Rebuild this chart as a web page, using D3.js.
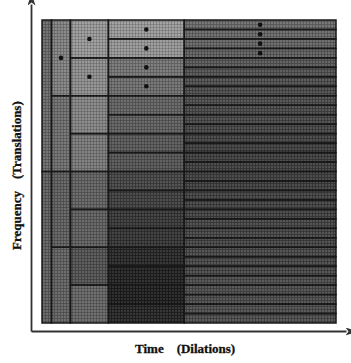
<!DOCTYPE html>
<html>
<head>
<meta charset="utf-8">
<script src="https://cdn.jsdelivr.net/npm/d3@7"></script>
<style>
  body { margin: 0; background: #fff; }
  svg { display: block; }
  .label { font-family: "Liberation Serif", "DejaVu Serif", serif; font-weight: bold; font-size: 13px; fill: #111; stroke: #111; stroke-width: 0.3px; }
</style>
</head>
<body>
<script>
// time-frequency tiling: one column per scale, widths in time units
const colWidths = [1, 2, 4, 8, 16];
const colRows = [2, 4, 8, 16, 32];

// coefficient magnitude (0..100) per tile, listed from the top row down
const energy0 = [45, 52];
const energy1 = [30, 42, 52, 50];
const energy2 = [15, 22, 28, 35, 50, 52, 60, 48];
const energy3 = [14, 16, 38, 42, 50, 52, 56, 58, 68, 72, 76, 78, 86, 90, 92, 88];
const energy4 = [44, 46, 48, 52, 56, 60, 62, 64, 64, 66, 66, 68, 70, 72, 72, 72,
                 72, 72, 70, 70, 70, 68, 68, 68, 66, 66, 66, 64, 64, 64, 63, 63];
const energies = [energy0, energy1, energy2, energy3, energy4];

// marked tiles [column, row from top]
const marks = [[1, 0], [2, 0], [2, 1], [3, 0], [3, 1], [3, 2], [3, 3], [4, 0], [4, 1], [4, 2], [4, 3]];

const xLabel = ['Time', '(Dilations)'];
const yLabel = ['Frequency', '(Translations)'];

const width = 351, height = 363;
const plot = { left: 42, top: 20, right: 336, bottom: 323 };

const svg = d3.select('body').append('svg')
  .attr('width', width)
  .attr('height', height);

const totalTime = d3.sum(colWidths);
const x = d3.scaleLinear().domain([0, totalTime]).range([plot.left, plot.right]);
const y = d3.scaleLinear().domain([0, 1]).range([plot.bottom, plot.top]);
const gray = d3.scaleLinear().domain([0, 100]).range(['#b0b0b0', '#101010']);

// texture like the scanned halftone
const defs = svg.append('defs');
const pat = defs.append('pattern')
  .attr('id', 'halftone')
  .attr('patternUnits', 'userSpaceOnUse')
  .attr('width', 3).attr('height', 3);
pat.append('rect').attr('x', 0).attr('y', 0).attr('width', 3).attr('height', 1)
  .attr('fill', '#000').attr('opacity', 0.12);
pat.append('rect').attr('x', 0).attr('y', 0).attr('width', 1).attr('height', 3)
  .attr('fill', '#000').attr('opacity', 0.12);
pat.append('rect').attr('x', 1.5).attr('y', 1.5).attr('width', 1).attr('height', 1)
  .attr('fill', '#fff').attr('opacity', 0.35);

let starts = [];
let acc = 0;
colWidths.forEach(w => { starts.push(acc); acc += w; });

let tiles = [];
energies.forEach((col, c) => {
  const n = colRows[c];
  col.forEach((v, i) => {
    tiles.push({
      t0: starts[c], t1: starts[c] + colWidths[c],
      f0: 1 - (i + 1) / n, f1: 1 - i / n,
      value: v,
    });
  });
});

const tileG = svg.append('g').attr('class', 'tiles');
tileG.selectAll('rect.tile')
  .data(tiles)
  .enter()
  .append('rect')
  .attr('class', 'tile')
  .attr('x', d => x(d.t0))
  .attr('y', d => y(d.f1))
  .attr('width', d => x(d.t1) - x(d.t0))
  .attr('height', d => y(d.f0) - y(d.f1))
  .attr('fill', d => gray(d.value));

tileG.append('rect')
  .attr('x', plot.left).attr('y', plot.top)
  .attr('width', plot.right - plot.left).attr('height', plot.bottom - plot.top)
  .attr('fill', 'url(#halftone)');

tileG.selectAll('rect.edge')
  .data(tiles)
  .enter()
  .append('rect')
  .attr('class', 'edge')
  .attr('x', d => x(d.t0))
  .attr('y', d => y(d.f1))
  .attr('width', d => x(d.t1) - x(d.t0))
  .attr('height', d => y(d.f0) - y(d.f1))
  .attr('fill', 'none')
  .attr('stroke', '#181818')
  .attr('stroke-width', 1.5);

svg.append('g').selectAll('circle')
  .data(marks)
  .enter()
  .append('circle')
  .attr('cx', d => x(starts[d[0]] + colWidths[d[0]] / 2))
  .attr('cy', d => y(1 - (d[1] + 0.5) / colRows[d[0]]))
  .attr('r', 2.3)
  .attr('fill', '#111');

// arrowed axes, no ticks
const axisX = d3.scaleLinear().range([31, 346]);
const axisY = d3.scaleLinear().range([331, 4]);

defs.append('marker')
  .attr('id', 'arrow')
  .attr('viewBox', '0 0 12 8')
  .attr('refX', 1).attr('refY', 4)
  .attr('markerWidth', 12).attr('markerHeight', 8)
  .attr('markerUnits', 'userSpaceOnUse')
  .attr('orient', 'auto')
  .append('path')
  .attr('d', 'M0,0 L12,4 L0,8 L3,4 Z')
  .attr('fill', '#333');

svg.append('g')
  .attr('transform', 'translate(0,331)')
  .call(d3.axisBottom(axisX).tickValues([]).tickSizeOuter(0));
svg.append('g')
  .attr('transform', 'translate(31,0)')
  .call(d3.axisLeft(axisY).tickValues([]).tickSizeOuter(0));
svg.selectAll('.domain')
  .attr('stroke', '#333')
  .attr('stroke-width', 1.8)
  .attr('marker-end', 'url(#arrow)');

svg.append('text')
  .attr('class', 'label')
  .attr('x', 135).attr('y', 353)
  .selectAll('tspan')
  .data(xLabel)
  .enter()
  .append('tspan')
  .attr('dx', (d, i) => i ? 13 : 0)
  .text(d => d);

svg.append('text')
  .attr('class', 'label')
  .attr('transform', 'translate(21,250) rotate(-90)')
  .selectAll('tspan')
  .data(yLabel)
  .enter()
  .append('tspan')
  .attr('dx', (d, i) => i ? 12 : 0)
  .text(d => d);
</script>
</body>
</html>
